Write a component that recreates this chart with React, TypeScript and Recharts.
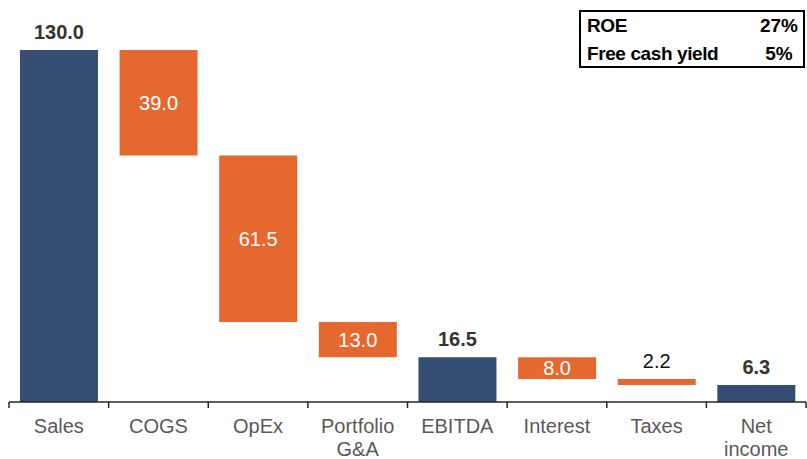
import React from 'react';
import { BarChart, Bar, XAxis, YAxis, Cell, LabelList } from 'recharts';

const categories = ['Sales', 'COGS', 'OpEx', 'Portfolio\nG&A', 'EBITDA', 'Interest', 'Taxes', 'Net\nincome'];
const amounts = [130.0, 39.0, 61.5, 13.0, 16.5, 8.0, 2.2, 6.3];
const kinds = ['total', 'delta', 'delta', 'delta', 'total', 'delta', 'delta', 'total'];
const metricNames = ['ROE', 'Free cash yield'];
const metricValues = ['27%', '5%'];

const BLUE = '#354D73';
const ORANGE = '#E5692F';
const FONT = '"Liberation Sans", Arial, sans-serif';

const W = 807;
const H = 459;
const M = { top: 50, right: 1, left: 9, bottom: 0 };
const AXIS_H = 57;
const PLOT_BOTTOM = H - M.bottom - AXIS_H;
const BAND = (W - M.left - M.right) / categories.length;

// build waterfall table: invisible base + visible segment
let level = 0;
const data = categories.map((name, i) => {
  let base = 0;
  if (kinds[i] === 'total') {
    level = amounts[i];
    base = 0;
  } else {
    level = level - amounts[i];
    base = level;
  }
  return { name, base, value: amounts[i], kind: kinds[i] };
});

const CategoryTick = (props: any) => {
  const { x, index, payload } = props;
  const lines = String(payload.value).split('\n');
  const left = x - BAND / 2;
  const right = x + BAND / 2;
  return (
    <g>
      <line x1={left} x2={left} y1={PLOT_BOTTOM} y2={PLOT_BOTTOM + 6} stroke="#262626" strokeWidth={1.5} />
      {index === categories.length - 1 && (
        <line x1={right} x2={right} y1={PLOT_BOTTOM} y2={PLOT_BOTTOM + 6} stroke="#262626" strokeWidth={1.5} />
      )}
      {lines.map((l, k) => (
        <text
          key={k}
          x={x}
          y={PLOT_BOTTOM + 31 + k * 23}
          textAnchor="middle"
          fontFamily={FONT}
          fontSize={20}
          fill="#595959"
        >
          {l}
        </text>
      ))}
    </g>
  );
};

const ValueLabel = (props: any) => {
  const { x, y, width, height, index, value } = props;
  const kind = kinds[index];
  const txt = Number(value).toFixed(1);
  const cx = x + width / 2;
  if (kind === 'total') {
    return (
      <text x={cx} y={y - 11} textAnchor="middle" fontFamily={FONT} fontSize={20} fontWeight="bold" fill="#333333">
        {txt}
      </text>
    );
  }
  if (Math.abs(height) < 20) {
    return (
      <text x={cx} y={y - 11} textAnchor="middle" fontFamily={FONT} fontSize={20} fill="#111111">
        {txt}
      </text>
    );
  }
  return (
    <text
      x={cx}
      y={y + height / 2}
      dy={7}
      textAnchor="middle"
      fontFamily={FONT}
      fontSize={20}
      fill="#FFFFFF"
    >
      {txt}
    </text>
  );
};

export default function App() {
  return (
    <div style={{ position: 'absolute', left: 0, top: 0, width: W, height: H, background: '#fff' }}>
      <BarChart width={W} height={H} data={data} margin={M} barCategoryGap="11%">
        <XAxis
          dataKey="name"
          interval={0}
          height={AXIS_H}
          tickLine={false}
          axisLine={{ stroke: '#262626', strokeWidth: 1.5 }}
          tick={<CategoryTick />}
        />
        <YAxis hide domain={[0, 130]} />
        <Bar dataKey="base" stackId="w" fill="none" isAnimationActive={false} />
        <Bar dataKey="value" stackId="w" isAnimationActive={false}>
          {data.map((d, i) => (
            <Cell key={i} fill={d.kind === 'total' ? BLUE : ORANGE} />
          ))}
          <LabelList dataKey="value" content={<ValueLabel />} />
        </Bar>
      </BarChart>
      <div
        style={{
          position: 'absolute',
          left: 579,
          top: 10,
          width: 222,
          height: 54,
          border: '2px solid #000',
          fontFamily: FONT,
          fontWeight: 'bold',
          fontSize: 19,
          color: '#000',
        }}
      >
        {metricNames.map((n, i) => (
          <div key={i} style={{ position: 'absolute', left: 6, top: 3 + i * 28, width: 214, height: 22, lineHeight: '22px' }}>
            <span style={{ position: 'absolute', left: 0, letterSpacing: -0.4, whiteSpace: 'nowrap' }}>{n}</span>
            <span style={{ position: 'absolute', left: 158, width: 68, textAlign: 'center' }}>{metricValues[i]}</span>
          </div>
        ))}
      </div>
    </div>
  );
}
